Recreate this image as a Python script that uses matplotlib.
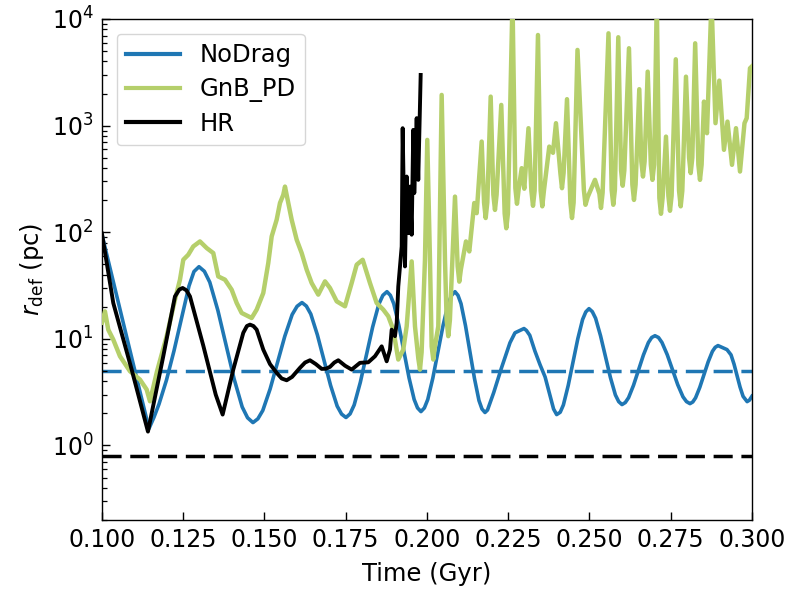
import matplotlib
matplotlib.use("Agg")
import matplotlib.pyplot as plt
from matplotlib.ticker import FormatStrFormatter, LogLocator

# ---- NoDrag run: time (Gyr) and deflection radius (pc)
nodrag_t = [0.1000, 0.1072, 0.11446,
            0.11600, 0.11754, 0.11985, 0.12216, 0.12446, 0.12677, 0.12831, 0.12985,
            0.13151, 0.13317, 0.13566, 0.13816, 0.14065, 0.14314, 0.14480, 0.14646,
            0.14797, 0.14948, 0.15174, 0.15400, 0.15626, 0.15852, 0.16003, 0.16154,
            0.16289, 0.16425, 0.16628, 0.16831, 0.17034, 0.17237, 0.17373, 0.17508,
            0.17634, 0.17760, 0.17949, 0.18139, 0.18328, 0.18517, 0.18643, 0.18769,
            0.18874, 0.18978, 0.19135, 0.19292, 0.19449, 0.19606, 0.19710, 0.19815,
            0.19920, 0.20024, 0.20181, 0.20338, 0.20496, 0.20653, 0.20757, 0.20862,
            0.20954, 0.21047, 0.21185, 0.21323, 0.21462, 0.21600, 0.21692, 0.21785,
            0.21862, 0.21939, 0.22054, 0.22169, 0.22285, 0.22400, 0.22554, 0.22708, 0.22985,
            0.23059, 0.23163, 0.23320, 0.23477, 0.23634, 0.23791, 0.23895, 0.23990,
            0.24099, 0.24197, 0.24345, 0.24492, 0.24640, 0.24788, 0.24887, 0.24985,
            0.25087, 0.25188, 0.25340, 0.25492, 0.25645, 0.25797, 0.25899, 0.26000,
            0.26102, 0.26203, 0.26355, 0.26508, 0.26660, 0.26812, 0.26914, 0.27015,
            0.27123, 0.27230, 0.27392, 0.27554, 0.27715, 0.27877, 0.27985, 0.28092,
            0.28178, 0.28264, 0.28394, 0.28523, 0.28652, 0.28782, 0.28868, 0.28954, 0.29231,
            0.29355, 0.29448, 0.29541, 0.29633, 0.29726, 0.2985, 0.2992, 0.3000]
nodrag_r = [94.8, 11.7, 1.44,
            1.84, 2.44, 4.11, 7.72, 15.5, 31.3, 42.8, 47.5,
            43.0, 34.0, 18.5, 8.83, 4.22, 2.30, 1.82, 1.64,
            1.78, 2.13, 3.39, 6.00, 10.6, 16.9, 20.2, 21.9,
            20.3, 17.1, 10.9, 6.32, 3.66, 2.34, 1.97, 1.83,
            1.98, 2.40, 3.91, 7.12, 12.9, 21.1, 25.6, 27.7,
            25.6, 21.4, 13.4, 7.60, 4.30, 2.70, 2.25, 2.08,
            2.25, 2.70, 4.30, 7.60, 13.4, 21.4, 25.6, 27.7,
            25.6, 21.4, 13.3, 7.52, 4.24, 2.64, 2.20, 2.04,
            2.15, 2.50, 3.14, 4.06, 5.26, 6.67, 9.20, 11.4, 12.5,
            12.0, 10.8, 7.70, 5.74, 4.40, 2.90, 2.20, 1.95,
            2.05, 2.40, 3.65, 6.05, 10.0, 15.2, 17.9, 19.2,
            18.0, 15.6, 10.7, 6.82, 4.33, 2.98, 2.58, 2.42,
            2.53, 2.81, 3.67, 5.09, 7.06, 9.23, 10.3, 10.7,
            10.3, 9.25, 7.11, 5.15, 3.72, 2.86, 2.58, 2.47,
            2.56, 2.80, 3.51, 4.62, 6.09, 7.63, 8.33, 8.65, 7.93,
            7.08, 5.79, 4.53, 3.53, 2.89, 2.58, 2.66, 2.90]

# ---- GnB_PD run
gnb_t = [0.1000, 0.10092, 0.10194, 0.10348, 0.10554, 0.10862, 0.11169, 0.11375, 0.11477,
         0.11692, 0.11991, 0.12246, 0.12400, 0.12502, 0.12655, 0.12809, 0.13015, 0.13222,
         0.13425, 0.13578, 0.13785, 0.13991, 0.14145, 0.14298, 0.14606, 0.14760, 0.14963,
         0.15117, 0.15222, 0.15375, 0.15477, 0.15578, 0.15631, 0.15732, 0.15837, 0.15991,
         0.16145, 0.16298, 0.16452, 0.16655, 0.16862, 0.17015, 0.17222, 0.17477, 0.17683,
         0.17837, 0.18022, 0.18246, 0.18452, 0.18655, 0.18809, 0.18963, 0.19117, 0.19271,
         0.19375, 0.19529, 0.19631, 0.19735, 0.19785, 0.19835, 0.19938, 0.20009, 0.20092,
         0.20144, 0.20194, 0.20244, 0.20348, 0.20452, 0.20554, 0.20605, 0.20655, 0.20705,
         0.20862, 0.20944, 0.20994, 0.21044, 0.21200, 0.21302, 0.21455, 0.21529,
         0.21683, 0.21756, 0.21806, 0.21856, 0.21960, 0.22042, 0.22092, 0.22142,
         0.22286, 0.22390, 0.22440, 0.22490, 0.22631, 0.22719, 0.22769, 0.22819, 0.22914,
         0.22994, 0.23123, 0.23212, 0.23262, 0.23312, 0.23415, 0.23498, 0.23548, 0.23598,
         0.23763, 0.23877, 0.23969, 0.24104, 0.24154, 0.24204,
         0.24308, 0.24412, 0.24462, 0.24512, 0.24631, 0.24827, 0.24877, 0.24947,
         0.25169, 0.25304, 0.25354, 0.25404, 0.25585, 0.25682, 0.25732, 0.25782, 0.25886,
         0.25972, 0.26022, 0.26072, 0.26215, 0.26319, 0.26369, 0.26419, 0.26532,
         0.26596, 0.26646, 0.26696, 0.26791, 0.26888, 0.26938, 0.26988, 0.27071,
         0.27150, 0.27200, 0.27250, 0.27354, 0.27427, 0.27477, 0.27527, 0.27655,
         0.27756, 0.27806, 0.27856, 0.27969, 0.28064, 0.28114, 0.28164, 0.28252,
         0.28350, 0.28400, 0.28450, 0.28523,
         0.28615, 0.28754, 0.28877, 0.28994, 0.29138, 0.29246, 0.29385, 0.29508, 0.29631,
         0.29769, 0.29837, 0.29938, 0.3000]
gnb_r = [14.2, 18.1, 12.2, 9.84, 6.87, 4.97, 4.15, 3.35, 2.60,
         4.93, 10.6, 23.3, 35.9, 55.2, 61.5, 73.6, 82.0, 71.1,
         63.8, 38.5, 35.9, 28.9, 21.7, 17.5, 15.7, 18.8, 26.9,
         51.4, 91.4, 131, 188, 224, 268, 188, 131, 85.1,
         63.8, 44.6, 33.4, 26.0, 34.6, 30.0, 22.5, 20.2, 33.4,
         49.6, 55.2, 33.4, 21.7, 18.8, 16.3, 12.2, 6.40, 7.93,
         13.1, 53.3, 13.1, 6.5, 5.15, 7.5, 55.2, 735, 55.2,
         8.5, 6.40, 8.5, 13.1, 1941, 55.2, 15.0, 10.6, 15.0,
         216, 48.0, 34.4, 45.0, 82.0, 66.1, 188, 151,
         709, 190, 136, 190, 1871, 225, 162, 225,
         1564, 150, 109, 150, 15000, 260, 185, 250, 399,
         256, 946, 245, 177, 245, 7080, 245, 175, 245,
         636, 556, 1054, 360, 259, 360,
         1770, 190, 136, 190, 5128, 250, 181, 215,
         310, 230, 169, 235, 7345, 250, 181, 250, 6745,
         380, 273, 380, 5318, 280, 201, 280, 2196,
         460, 333, 460, 3209, 430, 310, 430, 15000,
         210, 149, 210, 789, 220, 159, 220, 4190,
         245, 175, 245, 2879, 500, 359, 500, 5918,
         430, 310, 430, 1680,
         849, 15000, 1054, 2643, 593, 1091, 429, 946, 371,
         1054, 1175, 3451, 3600]

# ---- HR run
hr_t = [0.1000, 0.10348, 0.10914, 0.11415, 0.11886, 0.12100, 0.12246, 0.12380, 0.12483,
        0.12600, 0.12708, 0.13117, 0.13500, 0.13713, 0.14040, 0.14348, 0.14460, 0.14554,
        0.14660, 0.14760, 0.14963, 0.15170, 0.15375, 0.15530, 0.15683, 0.15850, 0.16092,
        0.16250, 0.16400, 0.16580, 0.16760, 0.16890, 0.17015, 0.17150, 0.17271, 0.17480,
        0.17683, 0.17938, 0.18194, 0.18400, 0.18606, 0.18760, 0.18862, 0.18914, 0.19015,
        0.19068, 0.19117, 0.19222, 0.19252, 0.19323, 0.19375, 0.19425, 0.19477, 0.19529,
        0.19578, 0.19609, 0.19683, 0.19732, 0.19806]
hr_r = [97.0, 21.7, 5.15, 1.35, 6.87, 14.8, 25.0, 29.0, 30.0,
        28.5, 25.0, 8.65, 3.00, 1.95, 5.15, 11.4, 13.2, 13.6,
        13.2, 12.2, 7.93, 5.80, 4.80, 4.25, 4.09, 4.40, 5.35,
        6.00, 6.30, 5.80, 5.23, 5.25, 5.46, 6.00, 6.30, 5.60,
        5.15, 5.96, 6.03, 6.87, 8.51, 6.16, 7.93, 12.2, 10.6,
        14.1, 31.0, 73.6, 946, 47.8, 333, 98.0, 268, 94.8,
        912, 233, 1175, 310, 2987]

# reference radii
nodrag_ref = 5.0
hr_ref = 0.8

x_ticks = [0.100, 0.125, 0.150, 0.175, 0.200, 0.225, 0.250, 0.275, 0.300]

blue = "#1f77b4"
green = "#b5cf6b"

plt.rcParams["font.family"] = "DejaVu Sans"
fig = plt.figure(figsize=(7.88, 5.90), dpi=100)
ax = fig.add_axes([0.1294, 0.1186, 0.8249, 0.8492])

ax.axhline(nodrag_ref, color=blue, lw=2.5, ls=(0, (5.5, 2.5)), zorder=1)
ax.axhline(hr_ref, color="black", lw=2.5, ls=(0, (5.5, 2.5)), zorder=1)

ax.plot(nodrag_t, nodrag_r, color=blue, lw=2.6, label="NoDrag", zorder=2)
ax.plot(gnb_t, gnb_r, color=green, lw=3.2, label="GnB_PD", zorder=3)
ax.plot(hr_t, hr_r, color="black", lw=2.8, label="HR", zorder=4)

ax.set_yscale("log")
ax.set_xlim(0.1, 0.3)
ax.set_ylim(0.2, 1e4)
ax.set_xticks(x_ticks)
ax.xaxis.set_major_formatter(FormatStrFormatter("%.3f"))
ax.yaxis.set_major_locator(LogLocator(base=10, numticks=10))
ax.yaxis.set_minor_locator(LogLocator(base=10, subs=range(2, 10), numticks=20))

ax.tick_params(axis="both", which="major", direction="in", length=6, width=1.0,
               labelsize=17, pad=6)
ax.tick_params(axis="both", which="minor", direction="in", length=3.5, width=0.9)
ax.tick_params(axis="x", which="minor", bottom=False)
for s in ax.spines.values():
    s.set_linewidth(1.0)

ax.set_xlabel("Time (Gyr)", fontsize=17.5, labelpad=7)
ax.set_ylabel(r"$r_{\rm def}$ (pc)", fontsize=17.5, labelpad=4)

leg = ax.legend(loc="upper left", fontsize=17.5, handlelength=2.2, borderaxespad=0.6,
                labelspacing=0.4)
for h in leg.legend_handles:
    h.set_linewidth(3.0)

fig.savefig("out.png", dpi=100)
